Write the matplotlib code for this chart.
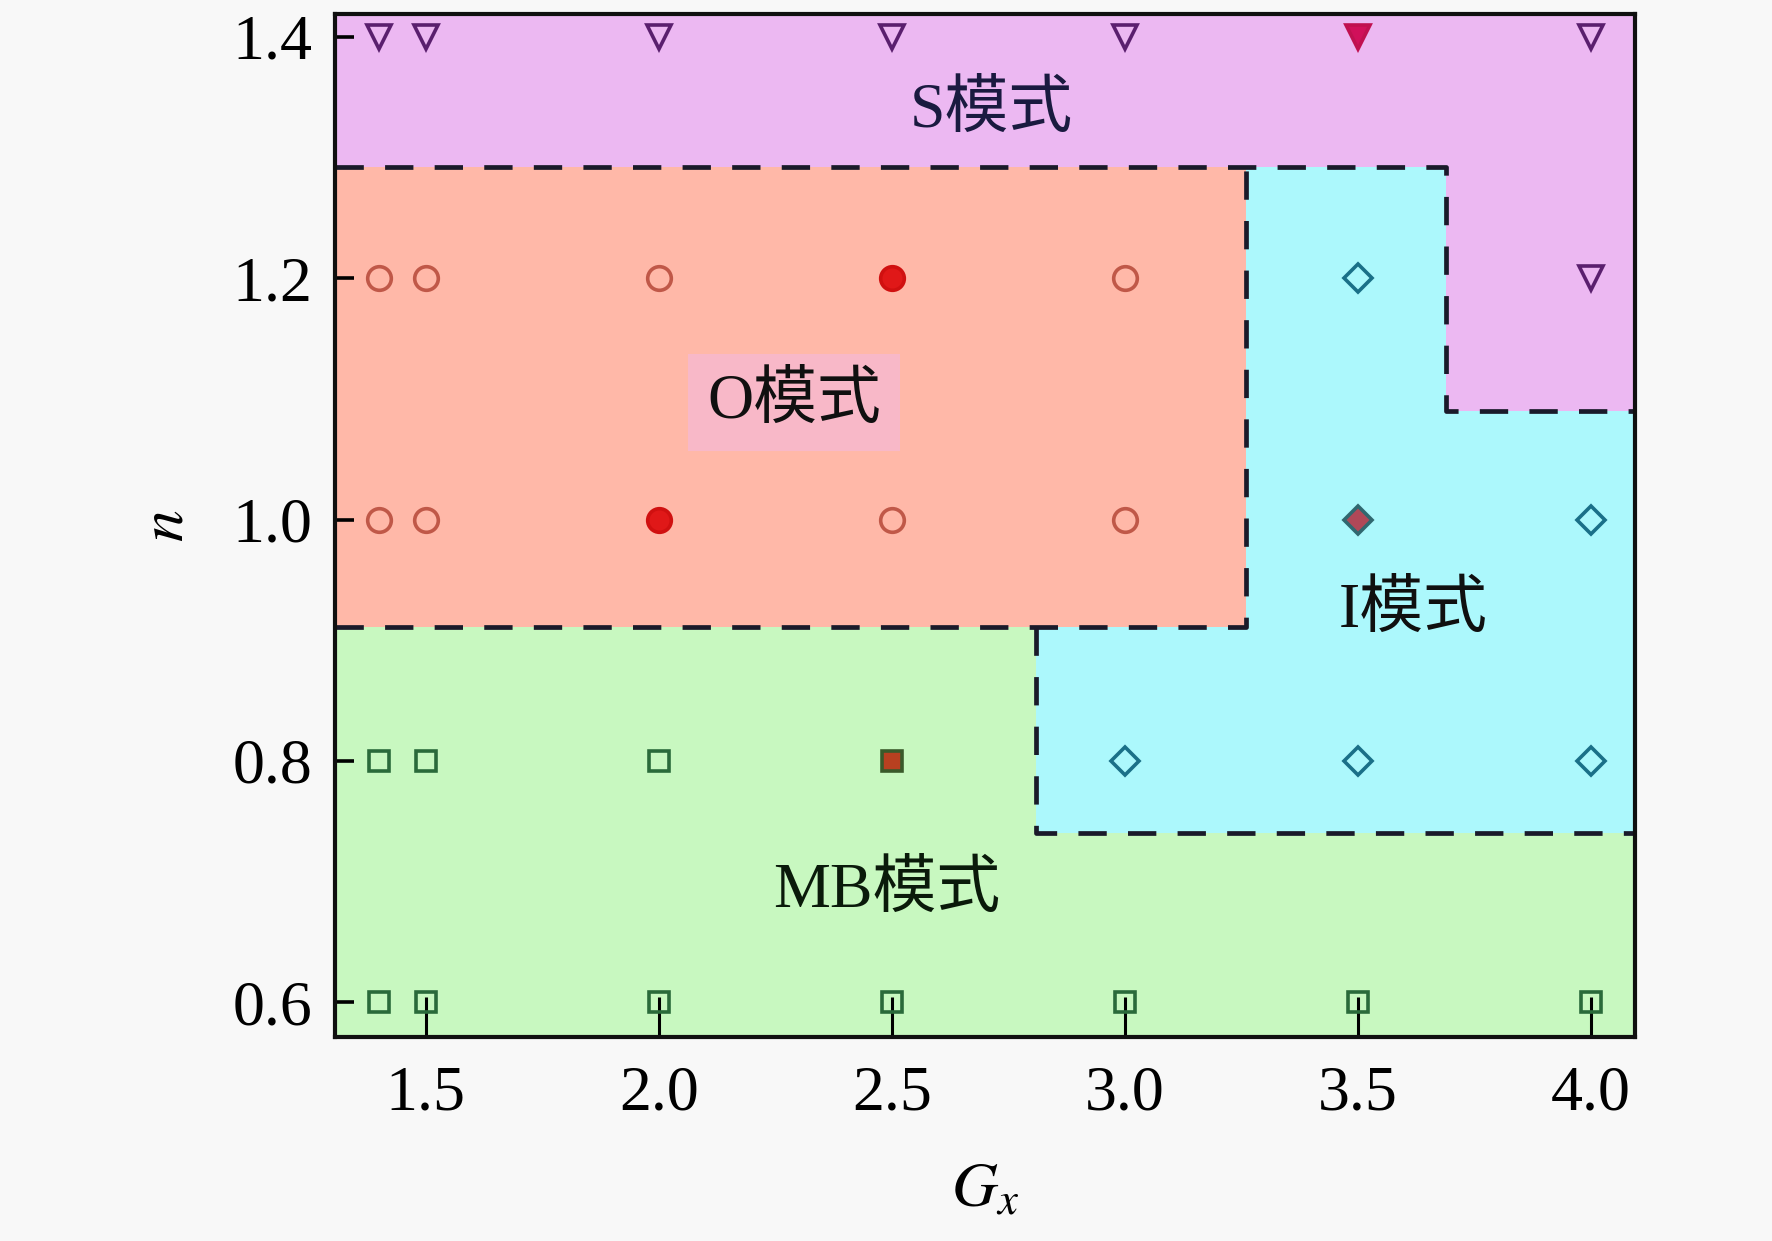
import matplotlib
matplotlib.use("Agg")
import matplotlib.pyplot as plt

plt.rcParams['font.family'] = ['Liberation Serif', 'Noto Sans CJK SC']
plt.rcParams['mathtext.fontset'] = 'stix'

# 工况点
gx = [1.4, 1.5, 2.0, 2.5, 3.0, 3.5, 4.0]

# 每种模式的点 (Gx, n)
s_x = [1.4, 1.5, 2.0, 2.5, 3.0, 4.0, 4.0]
s_y = [1.4, 1.4, 1.4, 1.4, 1.4, 1.4, 1.2]
o_x = [1.4, 1.5, 2.0, 3.0, 1.4, 1.5, 2.5, 3.0]
o_y = [1.2, 1.2, 1.2, 1.2, 1.0, 1.0, 1.0, 1.0]
i_x = [3.5, 4.0, 3.0, 3.5, 4.0]
i_y = [1.2, 1.0, 0.8, 0.8, 0.8]
mb_x = [1.4, 1.5, 2.0, 1.4, 1.5, 2.0, 2.5, 3.0, 3.5, 4.0]
mb_y = [0.8, 0.8, 0.8, 0.6, 0.6, 0.6, 0.6, 0.6, 0.6, 0.6]

# 实心点
s_sel = (3.5, 1.4)
o_sel = [(2.5, 1.2), (2.0, 1.0)]
i_sel = (3.5, 1.0)
mb_sel = (2.5, 0.8)

# 模式分界
n_s = 1.292
n_o = 0.911
n_i = 0.74
n_i2 = 1.09
gx_o = 3.26
gx_i = 2.81
gx_s = 3.69

xmin, xmax = 1.305, 4.095
ymin, ymax = 0.571, 1.419

fig = plt.figure(figsize=(17.72, 12.41), dpi=100, facecolor='#f8f8f8')
ax = fig.add_axes([0.189, 0.164, 0.7336, 0.825])
ax.set_xlim(xmin, xmax)
ax.set_ylim(ymin, ymax)

c_s = '#ecb8f2'
c_o = '#ffb8a8'
c_i = '#acf8fc'
c_mb = '#c8f8c0'

ax.fill([xmin, xmax, xmax, gx_i, gx_i, xmin],
        [ymin, ymin, n_i, n_i, n_o, n_o], color=c_mb, lw=0, zorder=0)
ax.fill([xmin, gx_o, gx_o, xmin], [n_o, n_o, n_s, n_s], color=c_o, lw=0, zorder=0)
ax.fill([gx_i, xmax, xmax, gx_s, gx_s, gx_o, gx_o, gx_i],
        [n_i, n_i, n_i2, n_i2, n_s, n_s, n_o, n_o], color=c_i, lw=0, zorder=0)
ax.fill([xmin, xmax, xmax, xmin], [n_s, n_s, ymax, ymax], color=c_s, lw=0, zorder=0)
ax.fill([gx_s, xmax, xmax, gx_s], [n_i2, n_i2, n_s, n_s], color=c_s, lw=0, zorder=0)

dash = dict(color='#1a1a2a', lw=3.4, ls=(0, (6, 4.5)), zorder=1)
ax.plot([xmin, gx_s, gx_s, xmax], [n_s, n_s, n_i2, n_i2], **dash)
ax.plot([xmin, gx_o, gx_o], [n_o, n_o, n_s], **dash)
ax.plot([gx_i, gx_i, xmax], [n_o, n_i, n_i], **dash)

ms = 17
mew = 2.6
ax.plot(s_x, s_y, 'v', ms=ms, mfc='none', mec='#5a1f6e', mew=mew, zorder=3)
ax.plot([s_sel[0]], [s_sel[1]], 'v', ms=ms, mfc='#d0105a', mec='#c01050', mew=mew, zorder=3)
ax.plot(o_x, o_y, 'o', ms=ms, mfc='none', mec='#c05848', mew=mew, zorder=3)
ax.plot([p[0] for p in o_sel], [p[1] for p in o_sel], 'o', ms=ms,
        mfc='#e01818', mec='#d01010', mew=mew, zorder=3)
ax.plot(i_x, i_y, 'D', ms=ms - 3, mfc='none', mec='#1a7088', mew=mew, zorder=3)
ax.plot([i_sel[0]], [i_sel[1]], 'D', ms=ms - 3, mfc='#b04858', mec='#306870', mew=mew, zorder=3)
ax.plot(mb_x, mb_y, 's', ms=ms - 2, mfc='none', mec='#2a6a3a', mew=mew, zorder=3)
ax.plot([mb_sel[0]], [mb_sel[1]], 's', ms=ms - 2, mfc='#b84020', mec='#3a5a2a', mew=mew, zorder=3)

fs = 46
ax.text(2.715, 1.338, 'S模式', fontsize=fs, ha='center', va='center', color='#1a1a40')
ax.text(2.29, 1.097, 'O模式', fontsize=fs, ha='center', va='center', color='#101010',
        bbox=dict(boxstyle='square,pad=0.3', fc='#f8b8c8', ec='none'))
ax.text(3.62, 0.924, 'I模式', fontsize=fs, ha='center', va='center', color='#101010')
ax.text(2.49, 0.692, 'MB模式', fontsize=fs, ha='center', va='center', color='#0a1a0a')

ax.set_xticks([1.5, 2.0, 2.5, 3.0, 3.5, 4.0])
ax.set_xticklabels(['1.5', '2.0', '2.5', '3.0', '3.5', '4.0'])
ax.set_yticks([0.6, 0.8, 1.0, 1.2, 1.4])
ax.set_yticklabels(['0.6', '0.8', '1.0', '1.2', '1.4'])
ax.tick_params(axis='x', direction='in', length=29, width=2.2, labelsize=fs, pad=20)
ax.tick_params(axis='y', direction='in', length=14, width=2.6, labelsize=fs, pad=16)

for sp in ax.spines.values():
    sp.set_linewidth(3)
    sp.set_color('#101010')

ax.set_xlabel('$G_x$', fontsize=fs, labelpad=28)
ax.set_ylabel('$n$', fontsize=fs, labelpad=26)

fig.savefig('out.png', dpi=100, facecolor=fig.get_facecolor())
